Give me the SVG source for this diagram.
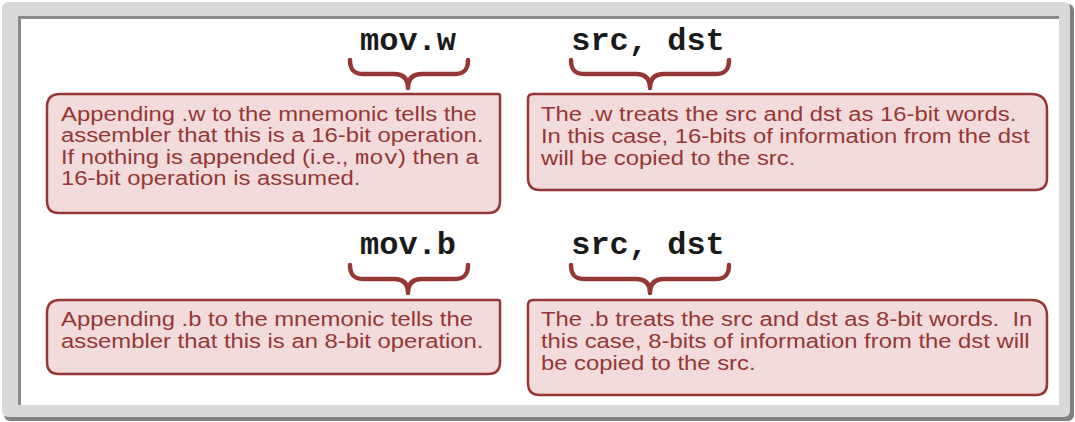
<svg xmlns="http://www.w3.org/2000/svg" width="1075" height="422" viewBox="0 0 1075 422">
<style>
.box{fill:#F2DCDB;stroke:#953735;stroke-width:2.5}
.t{font-family:"Liberation Sans",Arial,sans-serif;font-size:21px;fill:#953735}
.m{font-family:"Liberation Mono","Courier New",monospace}
.code{font-family:"Liberation Mono","Courier New",monospace;font-weight:bold;font-size:32px;fill:#1a1a1a;text-anchor:middle}
.brace{fill:none;stroke:#953735;stroke-width:4.5;stroke-linecap:round;stroke-linejoin:round}
</style>
<g id="frame">
<rect x="4" y="4" width="1070" height="417" rx="6" fill="#808080"/>
<rect x="2" y="2" width="1068" height="415" rx="6" fill="#d9d9d9"/>
<rect x="18" y="16" width="1041" height="389" fill="#8a8a8a"/>
<rect x="21" y="19" width="1038" height="386" fill="#ffffff"/>
</g>
<g id="connectors">
<path id="brace-movw" class="brace" d="M350,60 C350,70 354,74 364,74 L394,74 C403,74 408,78 408,88 C408,78 413,74 422,74 L454,74 C464,74 468,70 468,60"/>
<path id="brace-srcdst1" class="brace" d="M571,60 C571,70 575,74 585,74 L636,74 C645,74 650,78 650,88 C650,78 655,74 664,74 L715,74 C725,74 729,70 729,60"/>
<path id="brace-movb" class="brace" d="M350,265 C350,275 354,279 364,279 L394,279 C403,279 408,283 408,293 C408,283 413,279 422,279 L454,279 C464,279 468,275 468,265"/>
<path id="brace-srcdst2" class="brace" d="M571,265 C571,275 575,279 585,279 L636,279 C645,279 650,283 650,293 C650,283 655,279 664,279 L715,279 C725,279 729,275 729,265"/>
</g>
<g id="label-movw"><text class="code" x="408" y="50">mov.w</text></g>
<g id="label-srcdst1"><text class="code" x="648" y="50">src, dst</text></g>
<g id="label-movb"><text class="code" x="408" y="254">mov.b</text></g>
<g id="label-srcdst2"><text class="code" x="648" y="254">src, dst</text></g>
<g id="box-w-mnemonic">
<path class="box" d="M60,94 L498,94 Q500,94 500,96 L500,201 Q500,213 488,213 L59,213 Q47,213 47,201 L47,107 Q47,94 60,94 Z"/>
<g transform="matrix(1.135 0 0 1 61 0)">
<text class="t" x="0" y="121">Appending .w to the mnemonic tells the</text>
<text class="t" x="0" y="142.5">assembler that this is a 16-bit operation.</text>
<text class="t" x="0" y="164">If nothing is appended (i.e., <tspan class="m">mov</tspan>) then a</text>
<text class="t" x="0" y="185.5">16-bit operation is assumed.</text>
</g>
</g>
<g id="box-w-operands">
<path class="box" d="M533,94 L1031,94 Q1047,94 1047,110 L1047,178 Q1047,190 1035,190 L540,190 Q528,190 528,178 L528,99 Q528,94 533,94 Z"/>
<g transform="matrix(1.135 0 0 1 541 0)">
<text class="t" x="0" y="121">The .w treats the src and dst as 16-bit words.</text>
<text class="t" x="0" y="143">In this case, 16-bits of information from the dst</text>
<text class="t" x="0" y="165">will be copied to the src.</text>
</g>
</g>
<g id="box-b-mnemonic">
<path class="box" d="M60,300 L498,300 Q500,300 500,302 L500,362 Q500,374 488,374 L59,374 Q47,374 47,362 L47,313 Q47,300 60,300 Z"/>
<g transform="matrix(1.135 0 0 1 61 0)">
<text class="t" x="0" y="326">Appending .b to the mnemonic tells the</text>
<text class="t" x="0" y="348">assembler that this is an 8-bit operation.</text>
</g>
</g>
<g id="box-b-operands">
<path class="box" d="M533,300 L1031,300 Q1047,300 1047,316 L1047,384 Q1047,395 1036,395 L540,395 Q528,395 528,383 L528,305 Q528,300 533,300 Z"/>
<g transform="matrix(1.135 0 0 1 541 0)">
<text class="t" x="0" y="326" xml:space="preserve">The .b treats the src and dst as 8-bit words.  In</text>
<text class="t" x="0" y="348">this case, 8-bits of information from the dst will</text>
<text class="t" x="0" y="370">be copied to the src.</text>
</g>
</g>
</svg>
